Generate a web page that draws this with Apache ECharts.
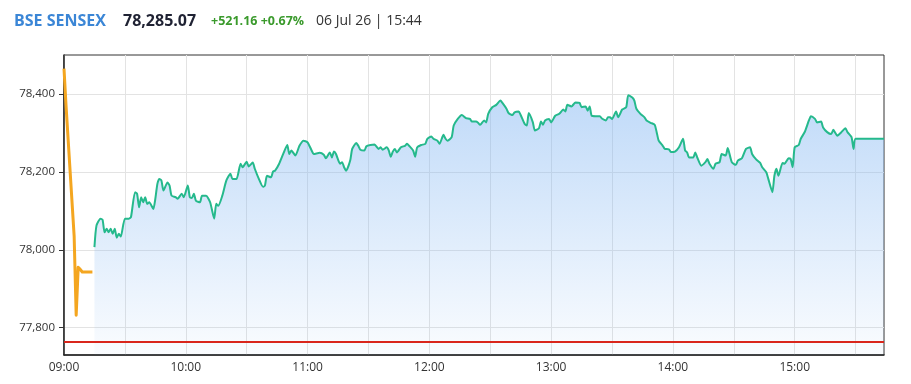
<!DOCTYPE html>
<html>
<head>
<meta charset="utf-8">
<script src="https://cdn.jsdelivr.net/npm/echarts@6/dist/echarts.min.js"></script>
<style>
  html, body { margin: 0; padding: 0; background: #fff; }
  #chart { width: 911px; height: 384px; }
</style>
</head>
<body>
<div id="chart"></div>
<script>
// pre-open session (orange)
const preTimes = ['09:00', '09:01', '09:05', '09:06', '09:07', '09:08', '09:09', '09:14']
const preValues = [78465, 78370, 78035, 77832, 77955, 77950, 77943, 77943]

// regular session (green)
const times = [
  '09:15', '09:16', '09:18', '09:19', '09:20', '09:21', '09:22', '09:23', '09:24', '09:25', '09:26', '09:27', '09:28',
  '09:30', '09:32', '09:33', '09:35', '09:36', '09:37', '09:38', '09:39', '09:40', '09:41', '09:42', '09:44', '09:45',
  '09:46', '09:47', '09:48', '09:49', '09:51', '09:52', '09:53', '09:55', '09:56', '09:58', '09:59', '10:01', '10:02',
  '10:03', '10:04', '10:05', '10:07', '10:08', '10:10', '10:12', '10:14', '10:15', '10:16', '10:18', '10:20', '10:22',
  '10:23', '10:25', '10:27', '10:28', '10:30', '10:31', '10:33', '10:34', '10:36', '10:38', '10:39', '10:40', '10:42',
  '10:43', '10:44', '10:46', '10:48', '10:50', '10:51', '10:52', '10:54', '10:56', '10:58', '11:00', '11:02', '11:03',
  '11:06', '11:08', '11:09', '11:11', '11:12', '11:13', '11:14', '11:16', '11:17', '11:18', '11:19', '11:21', '11:22',
  '11:24', '11:25', '11:26', '11:28', '11:29', '11:31', '11:33', '11:35', '11:36', '11:37', '11:39', '11:40', '11:41',
  '11:42', '11:43', '11:44', '11:46', '11:48', '11:49', '11:50', '11:52', '11:53', '11:54', '11:56', '11:58', '11:59',
  '12:01', '12:02', '12:04', '12:05', '12:07', '12:08', '12:09', '12:11', '12:12', '12:14', '12:16', '12:18', '12:20',
  '12:21', '12:23', '12:24', '12:25', '12:27', '12:28', '12:29', '12:31', '12:33', '12:35', '12:36', '12:38', '12:39',
  '12:41', '12:42', '12:44', '12:45', '12:47', '12:48', '12:49', '12:51', '12:52', '12:54', '12:55', '12:56', '12:57',
  '12:59', '13:00', '13:02', '13:04', '13:06', '13:07', '13:08', '13:10', '13:12', '13:14', '13:15', '13:17', '13:18',
  '13:19', '13:20', '13:22', '13:24', '13:25', '13:27', '13:28', '13:29', '13:30', '13:32', '13:33', '13:34', '13:35',
  '13:37', '13:38', '13:40', '13:41', '13:42', '13:44', '13:46', '13:47', '13:49', '13:51', '13:52', '13:53', '13:55',
  '13:56', '13:58', '13:59', '14:01', '14:03', '14:05', '14:06', '14:07', '14:08', '14:10', '14:11', '14:12', '14:14',
  '14:16', '14:17', '14:18', '14:20', '14:21', '14:23', '14:24', '14:26', '14:27', '14:29', '14:31', '14:32', '14:34',
  '14:36', '14:38', '14:39', '14:41', '14:43', '14:44', '14:46', '14:47', '14:49', '14:50', '14:51', '14:52', '14:54',
  '14:55', '14:57', '14:58', '14:59', '15:00', '15:02', '15:03', '15:05', '15:07', '15:08', '15:10', '15:11', '15:13',
  '15:14', '15:16', '15:18', '15:19', '15:21', '15:23', '15:25', '15:26', '15:28', '15:29', '15:30', '15:44'
]
const values = [
  78007, 78062, 78080, 78077, 78045, 78054, 78045, 78054, 78041, 78054, 78031, 78041, 78034,
  78080, 78080, 78084, 78148, 78144, 78109, 78135, 78122, 78135, 78118, 78122, 78105, 78131,
  78169, 78182, 78178, 78152, 78173, 78165, 78139, 78135, 78131, 78144, 78135, 78165, 78135,
  78133, 78144, 78126, 78122, 78139, 78139, 78122, 78080, 78118, 78113, 78139, 78178, 78195,
  78182, 78182, 78221, 78212, 78226, 78214, 78224, 78208, 78182, 78162, 78165, 78190, 78186,
  78201, 78203, 78221, 78246, 78269, 78246, 78255, 78242, 78267, 78280, 78276, 78255, 78246,
  78249, 78244, 78235, 78250, 78237, 78252, 78246, 78221, 78225, 78212, 78203, 78229, 78259,
  78274, 78267, 78257, 78255, 78266, 78269, 78270, 78259, 78263, 78257, 78263, 78255, 78239,
  78252, 78259, 78250, 78263, 78267, 78272, 78267, 78255, 78239, 78263, 78269, 78272, 78285,
  78291, 78285, 78280, 78272, 78295, 78285, 78280, 78289, 78319, 78336, 78346, 78338, 78336,
  78329, 78329, 78326, 78321, 78332, 78327, 78349, 78366, 78372, 78383, 78377, 78362, 78351,
  78346, 78353, 78355, 78346, 78323, 78319, 78351, 78327, 78306, 78312, 78329, 78321, 78332,
  78336, 78327, 78344, 78349, 78360, 78355, 78372, 78368, 78378, 78377, 78366, 78368, 78357,
  78368, 78344, 78343, 78343, 78337, 78332, 78340, 78340, 78336, 78355, 78340, 78349, 78360,
  78366, 78397, 78391, 78383, 78362, 78349, 78340, 78332, 78326, 78321, 78302, 78280, 78267,
  78259, 78258, 78251, 78252, 78263, 78285, 78255, 78250, 78237, 78237, 78250, 78237, 78216,
  78225, 78233, 78221, 78208, 78221, 78225, 78246, 78242, 78261, 78225, 78218, 78229, 78235,
  78259, 78263, 78246, 78232, 78223, 78212, 78199, 78182, 78148, 78190, 78208, 78190, 78223,
  78221, 78235, 78233, 78212, 78263, 78269, 78285, 78303, 78332, 78343, 78336, 78327, 78329,
  78314, 78302, 78297, 78308, 78293, 78302, 78312, 78302, 78289, 78259, 78285.07, 78285.07
]

const prevClose = 77763.91
const yTicks = [77800, 78000, 78200, 78400]
const xLabelTicks = [0, 60, 120, 180, 240, 300, 360]
const xGridTicks = [0, 30, 60, 90, 120, 150, 180, 210, 240, 270, 300, 330, 360, 390]

const FONT = '"Open Sans", sans-serif'

function toMin (t) {
  const p = t.split(':')
  return (+p[0] - 9) * 60 + (+p[1])
}
function fmtMin (m) {
  const h = 9 + Math.floor(m / 60)
  const mm = m % 60
  return String(h).padStart(2, '0') + ':' + String(mm).padStart(2, '0')
}

const chart = echarts.init(document.getElementById('chart'))
const option = {
  backgroundColor: '#fff',
  animation: false,
  graphic: [
    { type: 'text', left: 14, top: 13, style: { text: 'BSE SENSEX', font: 'bold 16px ' + FONT, fill: '#3b86d6' } },
    { type: 'text', left: 123, top: 13, style: { text: '78,285.07', font: 'bold 16px ' + FONT, fill: '#1f2233' } },
    { type: 'text', left: 211, top: 15, style: { text: '+521.16 +0.67%', font: 'bold 12.5px ' + FONT, fill: '#3a9a2c' } },
    { type: 'text', left: 316, top: 14, style: { text: '06 Jul 26 | 15:44', font: '14px ' + FONT, fill: '#333' } }
  ],
  grid: {
    left: 64,
    right: 27,
    top: 55,
    bottom: 29,
    show: true,
    borderColor: '#333',
    borderWidth: 1
  },
  xAxis: {
    type: 'value',
    min: 0,
    max: 404,
    axisLine: { show: true, lineStyle: { color: '#222', width: 1.5 } },
    axisTick: { show: false, customValues: xGridTicks },
    axisLabel: {
      customValues: xLabelTicks,
      formatter: (v) => fmtMin(v),
      color: '#333',
      fontSize: 12,
      fontFamily: FONT,
      margin: 7
    },
    splitLine: { show: true, lineStyle: { color: '#e3e3e3', width: 1 } }
  },
  yAxis: {
    type: 'value',
    min: 77730,
    max: 78500,
    axisLine: { show: true, lineStyle: { color: '#222', width: 1.5 } },
    axisTick: { show: true, length: 5, customValues: yTicks, lineStyle: { color: '#333' } },
    axisLabel: {
      customValues: yTicks,
      formatter: (v) => v.toLocaleString('en-US'),
      color: '#333',
      fontSize: 11.5,
      fontFamily: FONT,
      margin: 9
    },
    splitLine: { show: true, lineStyle: { color: '#e3e3e3', width: 1 } }
  },
  series: [
    {
      name: 'Pre-open',
      type: 'line',
      data: preTimes.map((t, i) => [toMin(t), preValues[i]]),
      symbol: 'none',
      lineStyle: { color: '#f4a620', width: 3, join: 'round' },
      z: 3
    },
    {
      name: 'SENSEX',
      type: 'line',
      data: times.map((t, i) => [toMin(t), values[i]]),
      symbol: 'none',
      smooth: 0.2,
      lineStyle: { color: '#25b98c', width: 2, join: 'round' },
      areaStyle: {
        origin: 'start',
        color: new echarts.graphic.LinearGradient(0, 0, 0, 1, [
          { offset: 0, color: 'rgba(130, 182, 242, 0.72)' },
          { offset: 1, color: 'rgba(130, 182, 242, 0.06)' }
        ])
      },
      markLine: {
        silent: true,
        symbol: 'none',
        label: { show: false },
        lineStyle: { color: '#d9261c', width: 2, type: 'solid' },
        data: [{ yAxis: prevClose }]
      },
      z: 2
    }
  ]
}
chart.setOption(option)
</script>
</body>
</html>
